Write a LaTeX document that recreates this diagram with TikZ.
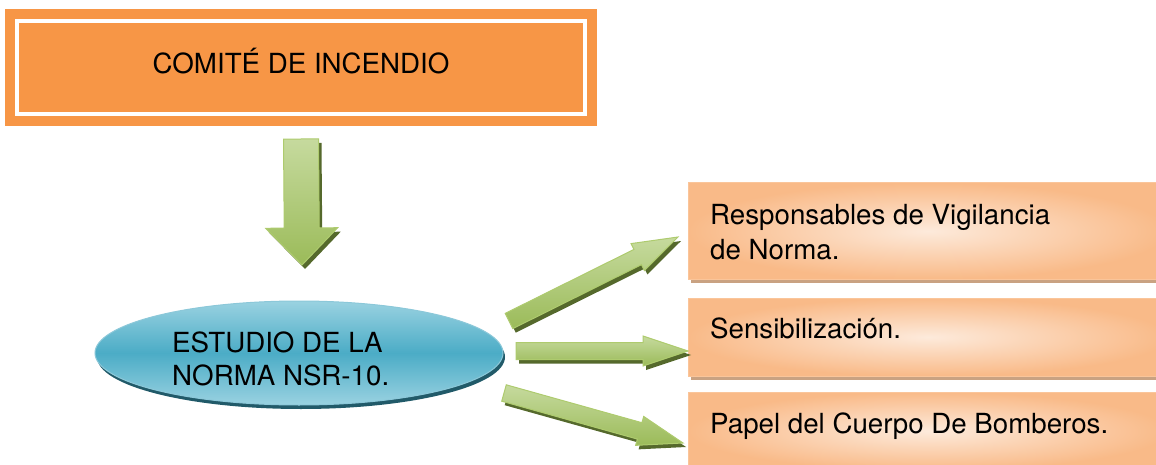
\documentclass[tikz,border=0pt]{standalone}
\usepackage{fontspec}
\setmainfont{TeX Gyre Heros}
\usetikzlibrary{calc,shapes.geometric,shadows}

\definecolor{titleorange}{HTML}{F79646}
\definecolor{greenlight}{HTML}{C6DA9E}
\definecolor{greendark}{HTML}{9BBB59}
\definecolor{greenedge}{HTML}{AECB6E}
\definecolor{greenshadow}{HTML}{55692C}
\definecolor{bluelight}{HTML}{9AD2E1}
\definecolor{bluemid}{HTML}{4BACC6}
\definecolor{blueedge}{HTML}{8CC8D9}
\definecolor{blueshadow}{HTML}{215A69}
\definecolor{peachin}{HTML}{FDEADB}
\definecolor{peachout}{HTML}{F9BA88}
\definecolor{peachedge}{HTML}{FAC59A}
\definecolor{peachshadow}{HTML}{C9A282}

\tikzset{
  arrshaft/.store in=\arrshaft, arrhead/.store in=\arrhead, arrlen/.store in=\arrlen,
  arrshaft=8.5pt, arrhead=15pt, arrlen=45pt,
  fatarrow/.style={
    top color=greenlight, bottom color=greendark, draw=greenedge, line width=1pt,
    preaction={fill=greenshadow, transform canvas={shift={(3pt,-4pt)}}},
    to path={
      ($(\tikztostart)!\arrshaft!90:(\tikztotarget)$)
      -- ($(\tikztotarget)!\arrlen!(\tikztostart)!\arrshaft!90:(\tikztotarget)$)
      -- ($(\tikztotarget)!\arrlen!(\tikztostart)!\arrhead!90:(\tikztotarget)$)
      -- (\tikztotarget)
      -- ($(\tikztotarget)!\arrlen!(\tikztostart)!\arrhead!-90:(\tikztotarget)$)
      -- ($(\tikztotarget)!\arrlen!(\tikztostart)!\arrshaft!-90:(\tikztotarget)$)
      -- ($(\tikztostart)!\arrshaft!-90:(\tikztotarget)$)
      -- cycle}},
  titlebox/.style={rectangle, fill=titleorange, minimum width=592pt, minimum height=117pt,
    text height=20pt, text depth=7pt},
  normabox/.style={ellipse, minimum width=408pt, minimum height=104pt,
    top color=bluelight, bottom color=bluelight, middle color=bluemid,
    draw=blueedge, line width=1pt,
    general shadow={fill=blueshadow, shadow xshift=2pt, shadow yshift=-4pt}},
  rbox/.style={rectangle, minimum width=480pt, inner color=peachin, outer color=peachout,
    draw=peachedge, line width=1pt,
    general shadow={fill=peachshadow, shadow xshift=3pt, shadow yshift=-4pt}},
  txt/.style={inner sep=0pt, align=left, anchor=north west}
}

\begin{document}
\begin{tikzpicture}[x=1pt, y=-1pt, font=\fontsize{27.7}{35}\selectfont]
  \useasboundingbox (0,0) rectangle (1156,465);

  % title
  \node[titlebox] (comite) at (301,67.5) {COMITÉ DE INCENDIO};
  \draw[white, line width=4pt] ($(comite.north west)+(12,12)$) rectangle ($(comite.south east)+(-12,-12)$);

  % ellipse
  \node[normabox] (est) at (299,353) {};
  \node[txt, font=\fontsize{27.7}{33}\selectfont] (est-t) at (172,332) {ESTUDIO DE LA\\NORMA NSR-10.};

  % boxes on the right
  \node[rbox, minimum height=96pt] (resp) at (928,231) {};
  \node[rbox, minimum height=78pt] (sens) at (928,337) {};
  \node[rbox, minimum height=78pt] (papel) at (928,431) {};
  \node[txt] (resp-t) at (710,204) {Responsables de Vigilancia\\de Norma.};
  \node[txt] (sens-t) at (710,318) {Sensibilización.};
  \node[txt] (papel-t) at (710,413) {Papel del Cuerpo De Bomberos.};

  % arrows
  \coordinate (d-s) at (301,139);
  \coordinate (d-e) at (302,265);
  \coordinate (a1-s) at (509,321);
  \coordinate (a1-e) at (678,237);
  \coordinate (a2-s) at (516,351);
  \coordinate (a2-e) at (688,351);
  \coordinate (a3-s) at (504,393);
  \coordinate (a3-e) at (683,443);
  \draw[fatarrow, arrshaft=17.5pt, arrhead=36pt, arrlen=37pt] (d-s) to (d-e);
  \draw[fatarrow] (a1-s) to (a1-e);
  \draw[fatarrow] (a2-s) to (a2-e);
  \draw[fatarrow] (a3-s) to (a3-e);
\end{tikzpicture}
\end{document}
